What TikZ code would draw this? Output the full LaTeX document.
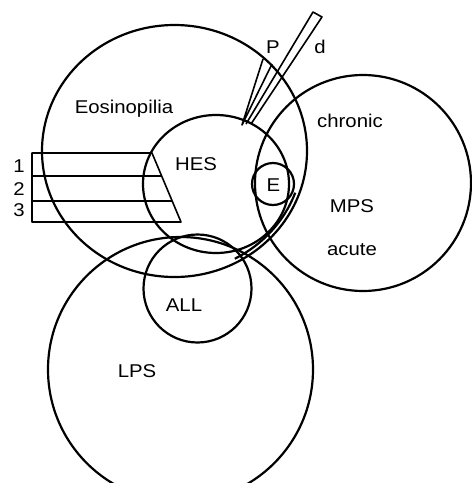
\documentclass[tikz,border=0pt]{standalone}
\usepackage{fontspec}
\newfontfamily\lblfont{Liberation Sans}[FakeStretch=1.1]
\usetikzlibrary{calc}

\begin{document}
\begin{tikzpicture}[
    x = 1pt, y = -1pt,
    ring/.style = {draw = black, line width = 2.2pt},
    fine/.style = {draw = black, line width = 1.6pt, line join = round},
    lbl/.style  = {font = \lblfont\fontsize{18.5}{18.5}\selectfont,
                   inner sep = 0pt, text height = 13.2pt, text depth = 0pt},
  ]
    \useasboundingbox (0,0) rectangle (472,483);
    \clip (0,0) rectangle (472,483);

    %% ── Sets ─────────────────────────────────────────────────────
    \draw[ring] (174.5,151) ellipse [x radius = 132.5, y radius = 126];
    \draw[ring] (174.5,151) ++(20:128.5 and 122) arc [start angle = 20, end angle = 62,
                                                      x radius = 128.5, y radius = 122];
    \draw[ring] (216,184) ellipse [x radius = 73, y radius = 69];
    \draw[ring] (363,183) circle [radius = 108];
    \draw[ring] (273,184) circle [radius = 21];
    \draw[ring] (197.5,288.5) circle [radius = 54];
    \draw[ring] (180.5,369.5) circle [radius = 132.5];

    %% ── Bands 1--3 ───────────────────────────────────────────────
    \coordinate (TR) at (152,153);
    \coordinate (BR) at (181,222);
    \draw[fine] (TR) -- (32,153) -- (32,222) -- (BR) -- cycle;
    \draw[fine] (32,176) -- ($(TR)!{23/69}!(BR)$);
    \draw[fine] (32,201) -- ($(TR)!{48/69}!(BR)$);

    %% ── Probe ────────────────────────────────────────────────────
    \draw[fine] (263,59) -- (242,125) -- (272,64);
    \draw[fine] (246,124) -- (313,12) -- (322,17) -- (251,124);

    %% ── Labels ───────────────────────────────────────────────────
    \node[lbl] (eos)   at (124,107) {Eosinopilia};
    \node[lbl] (hes)   at (196,164) {HES};
    \node[lbl] (e)     at (273.5,185) {E};
    \node[lbl] (chron) at (350,121) {chronic};
    \node[lbl] (mps)   at (352,206) {MPS};
    \node[lbl] (acute) at (352,249) {acute};
    \node[lbl] (all)   at (184,305) {ALL};
    \node[lbl] (lps)   at (137,371) {LPS};
    \node[lbl] (p)     at (273,47) {P};
    \node[lbl] (d)     at (320,47) {d};
    \node[lbl] (b1)    at (19,166) {1};
    \node[lbl] (b2)    at (19,188.5) {2};
    \node[lbl] (b3)    at (19,210) {3};
  \end{tikzpicture}
\end{document}
